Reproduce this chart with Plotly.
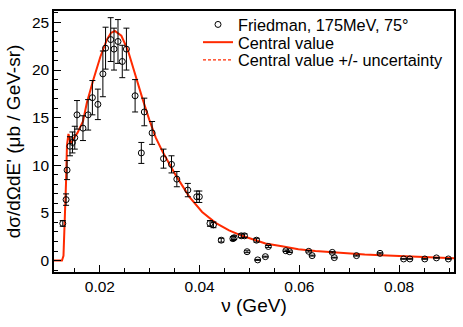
import plotly.graph_objects as go

# Friedman data, 175 MeV, 75 deg
nu_data = [0.01256, 0.01322, 0.01342, 0.01400, 0.01450, 0.01496, 0.01541, 0.01661,
           0.01765, 0.01850, 0.01960, 0.02060, 0.02114, 0.02217, 0.02283, 0.02363,
           0.02449, 0.02532, 0.02706, 0.02831, 0.02891, 0.03047, 0.03276, 0.03436,
           0.03543, 0.03763, 0.03942, 0.03994, 0.04207, 0.04277, 0.04433, 0.04667,
           0.04692, 0.04835, 0.04899, 0.04951, 0.05141, 0.05164, 0.05318, 0.05378,
           0.05729, 0.05803, 0.06187, 0.06255, 0.06660, 0.06700, 0.07145, 0.07617,
           0.08090, 0.08215, 0.08514, 0.08748, 0.08987]
xs_data = [3.9, 6.4, 9.5, 12.0, 12.4, 12.9, 15.3, 13.9,
           15.3, 17.1, 16.4, 19.6, 22.3, 23.2, 22.2, 23.0,
           20.9, 22.2, 17.3, 11.3, 15.6, 13.4, 10.7, 10.1,
           8.55, 7.4, 6.7, 6.7, 3.9, 3.75, 2.14, 2.3,
           2.4, 2.6, 2.6, 0.93, 2.14, 0.07, 0.41, 1.48,
           1.03, 0.93, 0.97, 0.52, 0.86, 0.31, 0.52, 0.76,
           0.17, 0.17, 0.17, 0.28, 0.17]
xs_err = [0.3, 0.6, 1.0, 1.0, 1.1, 1.2, 1.5, 1.3,
          1.6, 1.8, 1.6, 2.4, 2.2, 2.3, 2.2, 2.3,
          1.7, 2.2, 1.7, 1.1, 1.45, 1.2, 1.0, 0.9,
          0.8, 0.7, 0.6, 0.6, 0.3, 0.3, 0.2, 0.2,
          0.2, 0.2, 0.2, 0.1, 0.2, 0.05, 0.05, 0.1,
          0.08, 0.08, 0.08, 0.05, 0.07, 0.04, 0.05, 0.06,
          0.03, 0.03, 0.03, 0.03, 0.03]

# central value curve
nu_curve = [0.0108, 0.0124, 0.0127, 0.0130, 0.0132, 0.0134, 0.0137, 0.0140,
            0.0143, 0.0147, 0.0155, 0.0166, 0.0174, 0.0187, 0.0201, 0.0214,
            0.0222, 0.0230, 0.0243, 0.0256, 0.0269, 0.0286, 0.0299, 0.0312,
            0.0326, 0.0352, 0.0379, 0.0405, 0.0432, 0.0459, 0.0485, 0.0512,
            0.0532, 0.0565, 0.0598, 0.0632, 0.0665, 0.0698, 0.0731, 0.0764,
            0.0798, 0.0831, 0.0864, 0.0910]
xs_curve = [0.0, 0.0, 0.5, 4.0, 8.0, 12.1, 13.3, 12.6,
            12.3, 12.8, 13.4, 14.6, 16.6, 19.0, 21.4, 23.2,
            23.9, 24.1, 23.6, 22.1, 19.8, 16.9, 14.8, 12.9,
            11.4, 8.97, 6.72, 5.1, 3.96, 3.17, 2.6, 2.15,
            1.8, 1.5, 1.2, 1.0, 0.86, 0.74, 0.63, 0.56,
            0.47, 0.42, 0.34, 0.25]

FONT = "Liberation Sans, Arial, Helvetica, sans-serif"
RED = "#ff2a00"

fig = go.Figure()
fig.add_trace(go.Scatter(
    x=nu_curve, y=xs_curve, mode="lines", name="Central value",
    line=dict(color=RED, width=2), showlegend=False,
))
fig.add_trace(go.Scatter(
    x=nu_data, y=xs_data, mode="markers", name="Friedman, 175MeV, 75°",
    marker=dict(symbol="circle-open", size=6, color="black", line=dict(width=1)),
    error_y=dict(type="data", array=xs_err, color="black", thickness=1, width=3),
    legend="legend",
))
# legend entries for lines
fig.add_trace(go.Scatter(
    x=[None], y=[None], mode="lines", name="Central value",
    line=dict(color=RED, width=2), legend="legend2",
))
fig.add_trace(go.Scatter(
    x=[None], y=[None], mode="lines", name="Central value +/- uncertainty",
    line=dict(color=RED, width=1.2, dash="3px,2px"), legend="legend3",
))

leg = dict(x=0.36, xanchor="left", yanchor="middle",
           bgcolor="rgba(0,0,0,0)", font=dict(size=16.3))
fig.update_layout(
    width=463, height=327,
    margin=dict(l=54, r=7, t=7, b=55),
    paper_bgcolor="white", plot_bgcolor="white",
    font=dict(family=FONT, size=15.5, color="black"),
    legend=dict(leg, y=0.947),
    legend2=dict(leg, y=0.879),
    legend3=dict(leg, y=0.811),
)
fig.update_xaxes(
    range=[0.0108, 0.091], title_text="ν (GeV)", title_standoff=4,
    showline=True, linecolor="black", linewidth=1.5, mirror=True,
    showgrid=False, zeroline=False,
    ticks="inside", ticklen=7, tickcolor="black", dtick=0.02, tick0=0,
    tickformat=".2f",
    minor=dict(ticks="inside", ticklen=4, dtick=0.005, tickcolor="black", showgrid=False),
)
fig.update_yaxes(
    range=[-1.2, 26.2], title_text="dσ/dΩdE' (μb / GeV-sr)", title_standoff=6,
    showline=True, linecolor="black", linewidth=1.5, mirror=True,
    showgrid=False, zeroline=False,
    ticks="inside", ticklen=7, tickcolor="black", dtick=5, tick0=0,
    minor=dict(ticks="inside", ticklen=4, dtick=1, tickcolor="black", showgrid=False),
)

fig.write_html("out.html", config={"displayModeBar": False},
               post_script="document.body.style.margin='0';")
